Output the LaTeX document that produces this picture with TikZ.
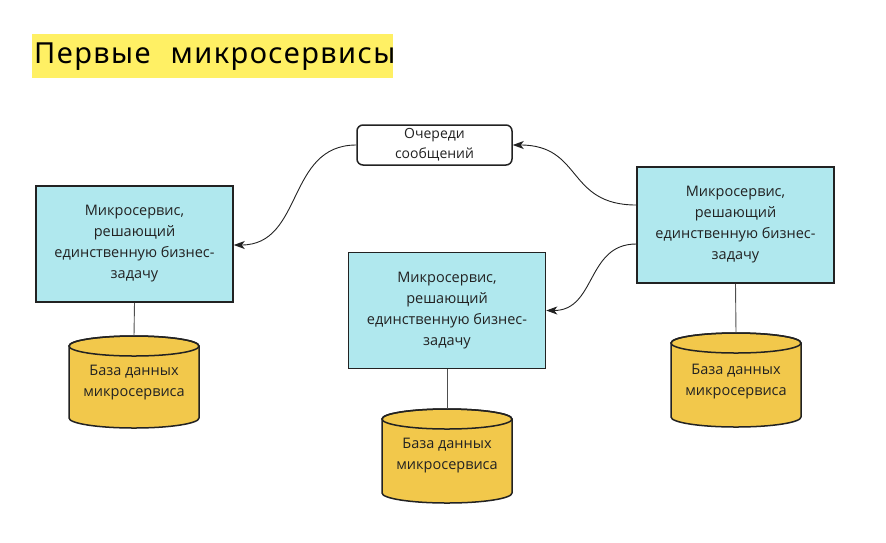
\documentclass[tikz,border=0pt]{standalone}
\usepackage{fontspec}
\setmainfont{Open Sans}
\newfontfamily\titlefont[LetterSpace=5]{Noto Sans}
\usetikzlibrary{arrows.meta}
\definecolor{boxfill}{RGB}{176,232,238}
\definecolor{dbfill}{RGB}{242,200,75}
\definecolor{hl}{RGB}{255,240,100}
\definecolor{ink}{RGB}{34,34,34}
\tikzset{
  svc/.style={draw=ink, line width=1.5pt, fill=boxfill, minimum width=197pt, minimum height=116pt,
    inner sep=0pt, align=center, font=\fontsize{14.5}{21}\selectfont, text=ink},
  queue/.style={draw=ink, line width=1.5pt, fill=white, rounded corners=6pt, minimum width=155pt,
    minimum height=40pt, inner sep=0pt, align=center, font=\fontsize{14}{20}\selectfont, text=ink},
  dbtext/.style={align=center, font=\fontsize{14.5}{21}\selectfont, text=ink, inner sep=0pt},
  arr/.style={draw=ink, line width=0.9pt, -{Stealth[length=11pt,width=8pt,inset=3pt]}},
  link/.style={draw=ink!80, line width=0.9pt},
}
\newcommand{\dbcyl}[4]{% name, cx, top, bottom
  \path[fill=dbfill, draw=ink, line width=1.5pt]
    (#2-65,#3+10) -- (#2-65,#4-10) arc[start angle=180, end angle=0, x radius=65, y radius=10]
    -- (#2+65,#3+10) arc[start angle=0, end angle=-180, x radius=65, y radius=10] -- cycle;
  \draw[ink, line width=1.5pt] (#2,#3+10) ellipse[x radius=65, y radius=10];
  \coordinate (#1top) at (#2,#3);
}
\begin{document}
\begin{tikzpicture}[x=1pt,y=-1pt]
\useasboundingbox (0,0) rectangle (886,542);
% title
\node[anchor=north west, fill=hl, minimum width=361pt, minimum height=44pt, inner sep=0pt,
  text width=361pt] (title) at (32,34)
  {\hspace{2pt}\titlefont\fontsize{29}{32}\selectfont Первые\hspace{20pt}микросервисы};
% queue
\node[queue] (q) at (434.5,145) {Очереди\\сообщений};
% services
\node[svc] (lb) at (134.5,244) {Микросервис,\\решающий\\единственную бизнес-\\задачу};
\node[svc] (rb) at (735.5,225) {Микросервис,\\решающий\\единственную бизнес-\\задачу};
\node[svc] (mb) at (447,310.5) {Микросервис,\\решающий\\единственную бизнес-\\задачу};
% databases
\dbcyl{ldb}{134}{336}{428}
\dbcyl{mdb}{447}{409}{503}
\dbcyl{rdb}{736}{333}{427}
\node[dbtext] (ldbt) at (134,383) {База данных\\микросервиса};
\node[dbtext] (mdbt) at (447,456) {База данных\\микросервиса};
\node[dbtext] (rdbt) at (736,382) {База данных\\микросервиса};
% links
\draw[link] (lb.south) -- (ldbtop);
\draw[link] (mb.south) -- (mdbtop);
\draw[link] (rb.south) -- (rdbtop);
% arrows
\draw[arr] (q.west) .. controls +(-70,0) and +(70,0) .. ([yshift=-1pt]lb.east);
\draw[arr] ([yshift=20pt]rb.west) .. controls +(-70,0) and +(70,0) .. (q.east);
\draw[arr] ([yshift=-19pt]rb.west) .. controls +(-50,0) and +(50,0) .. (mb.east);
\end{tikzpicture}
\end{document}
